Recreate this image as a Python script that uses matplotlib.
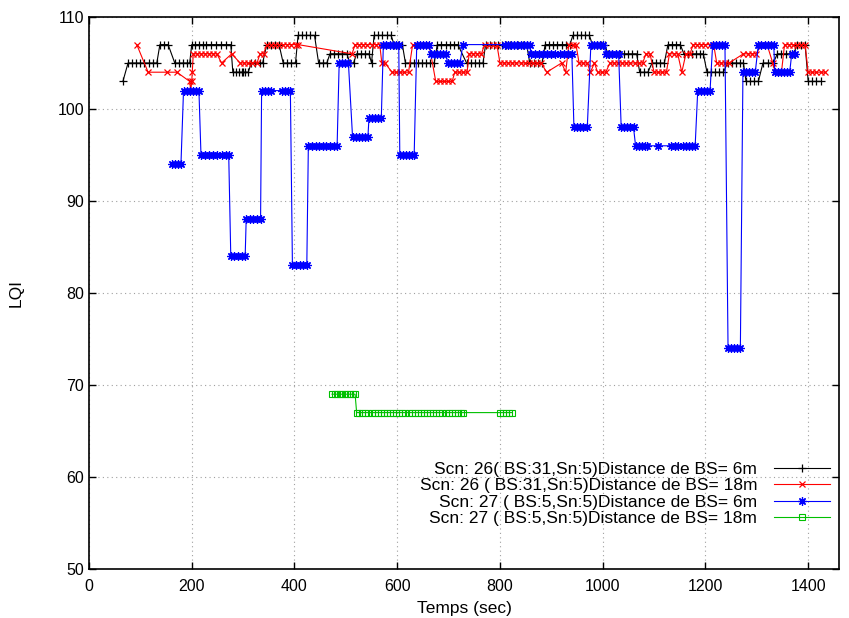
import matplotlib.pyplot as plt

# Scn 26, BS:31 at 6 m (black)
black_t = [66,
           76, 84, 92, 100, 108, 116, 124, 132,
           138, 146, 154,
           167, 175, 183, 191, 196,
           200, 206, 214, 222, 228, 238, 247, 256, 266, 276,
           280, 286, 292, 298, 300, 304, 310,
           316, 324, 332, 338,
           346, 354, 362, 370,
           378, 386, 394, 402,
           407, 415, 423, 431, 439,
           447, 455, 463,
           469, 477, 485, 493, 502,
           508, 515,
           521, 529, 537, 545,
           550,
           555, 563, 571, 580, 588,
           594, 602, 610,
           616, 624, 632, 640, 648, 656, 664, 672,
           678, 686, 694, 702, 710, 718,
           735, 743, 751, 759, 767,
           772, 780, 788, 796, 804, 812, 820, 828, 836, 844, 852,
           858, 866, 874, 882,
           888, 896, 904, 912, 920, 928, 936,
           942, 950, 958, 966, 974,
           980, 988, 996, 1004,
           1010, 1018, 1026, 1034, 1042, 1050, 1058, 1066,
           1072, 1080, 1088,
           1096, 1104, 1112, 1120,
           1127, 1135, 1143, 1151,
           1158, 1166, 1174, 1182, 1190, 1196,
           1203, 1211, 1219, 1227, 1235,
           1243, 1251, 1259, 1267, 1274,
           1279, 1287, 1295, 1303,
           1312, 1322, 1332,
           1340, 1348, 1356, 1364, 1372,
           1378, 1386, 1394,
           1400, 1408, 1416, 1424]
black_lqi = [103,
             105, 105, 105, 105, 105, 105, 105, 105,
             107, 107, 107,
             105, 105, 105, 105, 105,
             107, 107, 107, 107, 107, 107, 107, 107, 107, 107,
             104, 104, 104, 104, 104, 104, 104,
             105, 105, 105, 105,
             107, 107, 107, 107,
             105, 105, 105, 105,
             108, 108, 108, 108, 108,
             105, 105, 105,
             106, 106, 106, 106, 106,
             105, 105,
             106, 106, 106, 106,
             105,
             108, 108, 108, 108, 108,
             107, 107, 107,
             105, 105, 105, 105, 105, 105, 105, 105,
             107, 107, 107, 107, 107, 107,
             105, 105, 105, 105, 105,
             107, 107, 107, 107, 107, 107, 107, 107, 107, 107, 107,
             105, 105, 105, 105,
             107, 107, 107, 107, 107, 107, 107,
             108, 108, 108, 108, 108,
             107, 107, 107, 107,
             106, 106, 106, 106, 106, 106, 106, 106,
             104, 104, 104,
             105, 105, 105, 105,
             107, 107, 107, 107,
             106, 106, 106, 106, 106, 106,
             104, 104, 104, 104, 104,
             105, 105, 105, 105, 105,
             103, 103, 103, 103,
             105, 105, 105,
             106, 106, 106, 106, 106,
             107, 107, 107,
             103, 103, 103, 103]

# Scn 26, BS:31 at 18 m (red)
red_t = [93,
         115, 152, 171,
         196, 198, 200, 201,
         203, 210, 218, 226, 234, 242, 249,
         258, 278,
         294, 302, 310, 318, 327,
         333, 340,
         346, 354, 362, 370, 378, 386, 394, 402, 407,
         512,
         518, 526, 534, 542, 550, 558, 566,
         570, 576,
         590, 598, 606, 614, 622,
         630, 638, 646, 654, 662,
         675, 683, 691, 699, 707,
         712, 720, 728, 736,
         740, 748, 756, 764,
         770, 778, 786, 794,
         800, 808, 816, 824, 832, 840, 848, 856, 864, 872, 880,
         891, 920, 928,
         934, 942, 948,
         954, 962, 970,
         976, 984, 990, 998, 1006,
         1014, 1022, 1030, 1038, 1046, 1054, 1062, 1070, 1078,
         1084, 1092,
         1100, 1108, 1116, 1124,
         1130, 1138, 1146,
         1154, 1162, 1170,
         1176, 1184, 1192, 1200, 1208, 1216,
         1222, 1230, 1238, 1246,
         1274, 1282, 1290, 1298,
         1310, 1320, 1331,
         1336, 1342, 1348,
         1354, 1362, 1370, 1378, 1386, 1394,
         1400, 1408, 1416, 1424, 1432]
red_lqi = [107,
           104, 104, 104,
           103, 102, 103, 104,
           106, 106, 106, 106, 106, 106, 106,
           105, 106,
           105, 105, 105, 105, 105,
           106, 106,
           107, 107, 107, 107, 107, 107, 107, 107, 107,
           106,
           107, 107, 107, 107, 107, 107, 107,
           105, 105,
           104, 104, 104, 104, 104,
           107, 107, 107, 107, 107,
           103, 103, 103, 103, 103,
           104, 104, 104, 104,
           106, 106, 106, 106,
           107, 107, 107, 107,
           105, 105, 105, 105, 105, 105, 105, 105, 105, 105, 105,
           104, 105, 104,
           107, 107, 107,
           105, 105, 105,
           104, 105, 104, 104, 104,
           105, 105, 105, 105, 105, 105, 105, 105, 105,
           106, 106,
           104, 104, 104, 104,
           106, 106, 106,
           104, 106, 106,
           107, 107, 107, 107, 107, 107,
           105, 105, 105, 105,
           106, 106, 106, 106,
           107, 107, 105,
           104, 104, 104,
           107, 107, 107, 107, 107, 107,
           104, 104, 104, 104, 104]

# Scn 27, BS:5 at 6 m (blue)
blue_t = [161, 167, 173, 179,
          184, 190, 196, 202, 208, 214,
          218, 226, 234, 242, 250, 258, 266, 272,
          276, 283, 290, 297, 304,
          306, 313, 320, 327, 334,
          336, 342, 348, 354, 375, 381, 387, 392,
          396, 403, 410, 417, 424,
          427, 434, 441, 448, 455, 462, 469, 476, 483,
          487, 493, 499, 505,
          513, 519, 525, 531, 537, 543,
          545, 551, 557, 563, 569,
          573, 579, 585, 591, 597, 603,
          605, 611, 617, 623, 629, 633,
          638, 644, 650, 656, 662,
          666, 672, 678, 684, 690, 695,
          698, 704, 710, 716, 722,
          728,
          810, 816, 822, 828, 834, 840, 846, 852, 858,
          860, 868, 876, 884, 892, 900, 908, 916, 924, 932, 940,
          944, 950, 956, 962, 970,
          977, 983, 989, 995, 1001,
          1007, 1013, 1019, 1025, 1031,
          1036, 1042, 1048, 1054, 1060,
          1064, 1070, 1076, 1082, 1086,
          1108,
          1132, 1140, 1146,
          1156, 1162, 1168, 1174, 1180,
          1185, 1191, 1197, 1203, 1209,
          1214, 1220, 1226, 1232, 1238,
          1244, 1250, 1256, 1262, 1268,
          1273, 1279, 1285, 1291, 1297,
          1303, 1309, 1315, 1321, 1327, 1333,
          1335, 1341, 1347, 1353, 1359, 1364,
          1368, 1374]
blue_lqi = [94, 94, 94, 94,
            102, 102, 102, 102, 102, 102,
            95, 95, 95, 95, 95, 95, 95, 95,
            84, 84, 84, 84, 84,
            88, 88, 88, 88, 88,
            102, 102, 102, 102, 102, 102, 102, 102,
            83, 83, 83, 83, 83,
            96, 96, 96, 96, 96, 96, 96, 96, 96,
            105, 105, 105, 105,
            97, 97, 97, 97, 97, 97,
            99, 99, 99, 99, 99,
            107, 107, 107, 107, 107, 107,
            95, 95, 95, 95, 95, 95,
            107, 107, 107, 107, 107,
            106, 106, 106, 106, 106, 106,
            105, 105, 105, 105, 105,
            107,
            107, 107, 107, 107, 107, 107, 107, 107, 107,
            106, 106, 106, 106, 106, 106, 106, 106, 106, 106, 106,
            98, 98, 98, 98, 98,
            107, 107, 107, 107, 107,
            106, 106, 106, 106, 106,
            98, 98, 98, 98, 98,
            96, 96, 96, 96, 96,
            96,
            96, 96, 96,
            96, 96, 96, 96, 96,
            102, 102, 102, 102, 102,
            107, 107, 107, 107, 107,
            74, 74, 74, 74, 74,
            104, 104, 104, 104, 104,
            107, 107, 107, 107, 107, 107,
            104, 104, 104, 104, 104, 104,
            106, 106]

# Scn 27, BS:5 at 18 m (green)
green_t = [473, 478, 483, 488, 493, 498, 503, 508, 513, 518,
           521, 526, 532, 538, 544, 550, 556, 562, 568, 574, 580, 586,
           592, 598, 604, 610, 616, 622, 628, 634, 640, 646, 652, 658,
           664, 670, 676, 682, 688, 694, 700, 706, 712, 718, 724, 728,
           800, 806, 812, 818, 823]
green_lqi = [69, 69, 69, 69, 69, 69, 69, 69, 69, 69,
             67, 67, 67, 67, 67, 67, 67, 67, 67, 67, 67, 67,
             67, 67, 67, 67, 67, 67, 67, 67, 67, 67, 67, 67,
             67, 67, 67, 67, 67, 67, 67, 67, 67, 67, 67, 67,
             67, 67, 67, 67, 67]

labels = ["Scn: 26( BS:31,Sn:5)Distance de BS= 6m",
          "Scn: 26 ( BS:31,Sn:5)Distance de BS= 18m",
          "Scn: 27 ( BS:5,Sn:5)Distance de BS= 6m",
          "Scn: 27 ( BS:5,Sn:5)Distance de BS= 18m"]


def main():
    plt.rcParams['font.family'] = ['Liberation Sans', 'DejaVu Sans']
    plt.rcParams['font.size'] = 12.5

    fig = plt.figure(figsize=(8.49, 6.18), dpi=100)
    ax = fig.add_axes([89 / 849, 49 / 618, 750 / 849, 552 / 618])

    lw = 0.8
    ax.plot(black_t, black_lqi, color='black', lw=lw, marker='+',
            ms=6, mew=0.9, label=labels[0])
    ax.plot(red_t, red_lqi, color='#ff0000', lw=lw, marker='x',
            ms=5, mew=0.9, label=labels[1])
    ax.plot(blue_t, blue_lqi, color='#0000ff', lw=lw, marker=(8, 2, 0),
            ms=6, mew=0.9, label=labels[2])
    ax.plot(green_t, green_lqi, color='#00c000', lw=lw, marker='s',
            ms=4, mew=0.8, mfc='none', label=labels[3])

    ax.set_xlim(0, 1460)
    ax.set_ylim(50, 110)
    ax.set_xticks(range(0, 1401, 200))
    ax.set_yticks(range(50, 111, 10))
    ax.grid(True, color='#a0a0a0', linestyle=(0, (1, 3)), linewidth=0.8)
    ax.tick_params(direction='in', top=True, right=True, length=5, width=1,
                   labelsize=11.5)
    ax.tick_params(axis='x', pad=7)
    for s in ax.spines.values():
        s.set_linewidth(1.2)

    ax.set_xlabel("Temps (sec)", labelpad=5)
    ax.set_ylabel("LQI")
    ax.yaxis.set_label_coords(-0.087, 0.5)

    ax.legend(loc='lower right', bbox_to_anchor=(0.988, 0.077),
              frameon=False, markerfirst=False, borderaxespad=0,
              borderpad=0, handlelength=3.2, handletextpad=1.0,
              labelspacing=0.08)

    fig.savefig("out.png", dpi=100)


if __name__ == '__main__':
    main()
